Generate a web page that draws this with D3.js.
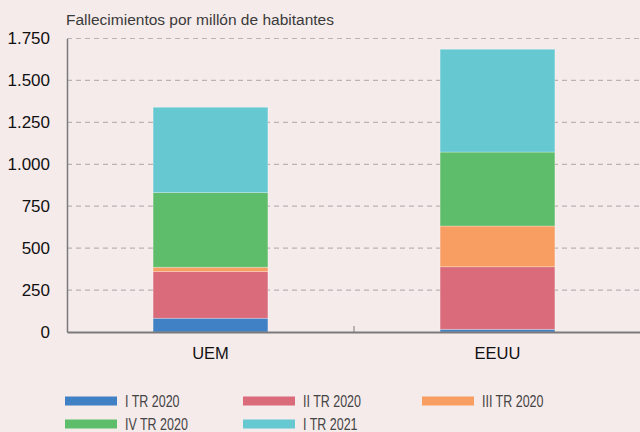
<!DOCTYPE html>
<html><head><meta charset="utf-8">
<script src="https://cdn.jsdelivr.net/npm/d3@7"></script>
<style>
html,body{margin:0;padding:0;background:#f6ebeb;}
svg{display:block;}
</style></head>
<body>
<svg id="chart" width="640" height="432"></svg>
<script>
const categories = ["UEM", "EEUU"];
const seriesNames = ["I TR 2020", "II TR 2020", "III TR 2020", "IV TR 2020", "I TR 2021"];
const seriesColors = ["#4080c4", "#d96b7a", "#f89e62", "#5ebd6a", "#66c9d2"];
const valuesI20 = [82, 16];
const valuesII20 = [278, 373];
const valuesIII20 = [26, 243];
const valuesIV20 = [445, 441];
const valuesI21 = [509, 613];
const yTicks = [0, 250, 500, 750, 1000, 1250, 1500, 1750];
const yTickLabels = ["0", "250", "500", "750", "1.000", "1.250", "1.500", "1.750"];
const title = "Fallecimientos por millón de habitantes";

(function () {
const seriesValues = [valuesI20, valuesII20, valuesIII20, valuesIV20, valuesI21];
const table = categories.map((c, i) => {
  const row = {cat: c};
  seriesNames.forEach((s, j) => row[s] = seriesValues[j][i]);
  return row;
});
const stacked = d3.stack().keys(seriesNames)(table);

const svg = d3.select("#chart");
svg.append("rect").attr("width", 640).attr("height", 432).attr("fill", "#f6ebeb");

const mLeft = 67, mRight = 641, mTop = 38.5, mBottom = 332;
const x = d3.scaleBand().domain(categories).range([mLeft, mRight]).padding(0);
const y = d3.scaleLinear().domain([0, 1750]).range([mBottom, mTop]);

// gridlines
svg.append("g").selectAll("line").data(yTicks.filter(d => d > 0)).join("line")
  .attr("x1", mLeft).attr("x2", 640)
  .attr("y1", d => y(d)).attr("y2", d => y(d))
  .attr("stroke", "#b8b4b4").attr("stroke-width", 1.2)
  .attr("stroke-dasharray", "5,4");

// bars
const barW = x.bandwidth() * 0.4;
svg.append("g").selectAll("g").data(stacked).join("g")
  .attr("fill", (d, i) => seriesColors[i])
  .selectAll("rect").data(d => d).join("rect")
  .attr("x", d => x(d.data.cat) + (x.bandwidth() - barW) / 2)
  .attr("width", barW)
  .attr("y", d => y(d[1]))
  .attr("height", d => y(d[0]) - y(d[1]))
  .attr("stroke", "rgba(255,255,255,0.35)").attr("stroke-width", 0.8);

// y axis
const yAxis = d3.axisLeft(y).tickValues(yTicks).tickFormat((d, i) => yTickLabels[i]).tickSize(0).tickPadding(17);
const gy = svg.append("g").attr("transform", `translate(${mLeft},0)`).call(yAxis);
gy.select(".domain").attr("stroke", "#7a7a7a").attr("stroke-width", 1.5);
gy.selectAll("text").attr("font-family", "Liberation Sans, Arial, sans-serif").attr("font-size", 17).attr("fill", "#111");

// x axis
const xAxis = d3.axisBottom(x).tickSize(0).tickPadding(15);
const gx = svg.append("g").attr("transform", `translate(0,${mBottom})`).call(xAxis);
gx.select(".domain").attr("stroke", "#7a7a7a").attr("stroke-width", 2);
gx.selectAll("text").attr("font-family", "Liberation Sans, Arial, sans-serif").attr("font-size", 16.5).attr("fill", "#111");
// separator tick between categories
svg.append("line")
  .attr("x1", x(categories[1])).attr("x2", x(categories[1]))
  .attr("y1", mBottom - 6).attr("y2", mBottom)
  .attr("stroke", "#7a7a7a").attr("stroke-width", 1);

// title
svg.append("text").attr("x", 66).attr("y", 25)
  .attr("font-family", "Liberation Sans, Arial, sans-serif").attr("font-size", 15.5)
  .attr("fill", "#3a3a3a").text(title);

// legend
const legendPos = [[65, 401], [243, 401], [422, 401], [65, 424], [243, 424]];
const lg = svg.append("g").selectAll("g").data(seriesNames).join("g")
  .attr("transform", (d, i) => `translate(${legendPos[i][0]},${legendPos[i][1]})`);
lg.append("rect").attr("x", 0).attr("y", -4.5).attr("width", 52).attr("height", 9)
  .attr("fill", (d, i) => seriesColors[i]);
lg.append("text").attr("transform", "translate(60,5.5) scale(0.78,1)")
  .attr("font-family", "Liberation Sans, Arial, sans-serif").attr("font-size", 16)
  .attr("fill", "#444").text(d => d);
})();
</script>
</body></html>
